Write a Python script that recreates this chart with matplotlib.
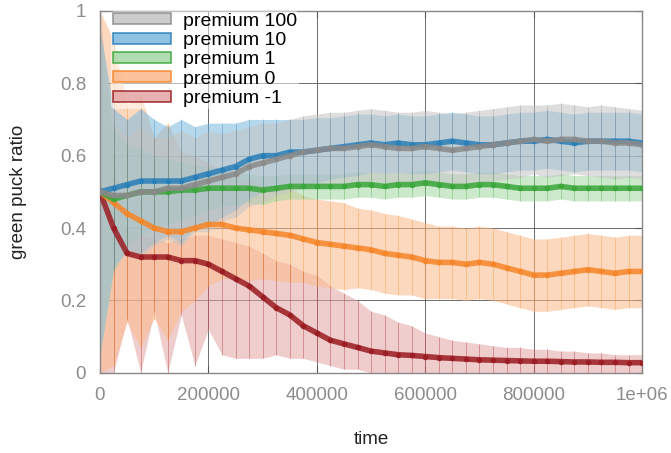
import matplotlib
matplotlib.use('Agg')
import matplotlib.pyplot as plt
from matplotlib.patches import Patch
import numpy as np

plt.rcParams['font.family'] = ['Liberation Sans', 'DejaVu Sans']

# time samples (every 25000 steps)
time = [i * 25000 for i in range(41)]

labels = ['premium 100', 'premium 10', 'premium 1', 'premium 0', 'premium -1']

# mean green puck ratio
p100_mean = [0.50, 0.49, 0.49, 0.50, 0.50, 0.51, 0.51, 0.52, 0.53, 0.54,
             0.55, 0.57, 0.58, 0.59, 0.60, 0.61, 0.615, 0.62, 0.62, 0.625,
             0.63, 0.625, 0.62, 0.62, 0.625, 0.62, 0.615, 0.62, 0.625, 0.63,
             0.635, 0.64, 0.645, 0.64, 0.645, 0.645, 0.64, 0.64, 0.635, 0.635, 0.63]
p10_mean = [0.50, 0.51, 0.52, 0.53, 0.53, 0.53, 0.53, 0.54, 0.55, 0.56,
            0.57, 0.59, 0.60, 0.60, 0.61, 0.61, 0.615, 0.62, 0.625, 0.63,
            0.635, 0.63, 0.635, 0.63, 0.63, 0.635, 0.64, 0.635, 0.63, 0.63,
            0.635, 0.64, 0.64, 0.645, 0.64, 0.635, 0.64, 0.64, 0.64, 0.64, 0.635]
p1_mean = [0.50, 0.48, 0.49, 0.50, 0.50, 0.50, 0.505, 0.505, 0.51, 0.51,
           0.51, 0.51, 0.505, 0.51, 0.515, 0.515, 0.515, 0.515, 0.515, 0.52,
           0.52, 0.515, 0.52, 0.52, 0.525, 0.52, 0.515, 0.515, 0.52, 0.52,
           0.515, 0.51, 0.51, 0.51, 0.515, 0.51, 0.51, 0.51, 0.51, 0.51, 0.51]
p0_mean = [0.50, 0.47, 0.44, 0.42, 0.40, 0.39, 0.39, 0.40, 0.41, 0.41,
           0.40, 0.395, 0.39, 0.385, 0.38, 0.37, 0.36, 0.355, 0.35, 0.345,
           0.34, 0.33, 0.325, 0.32, 0.31, 0.305, 0.305, 0.30, 0.305, 0.30,
           0.29, 0.28, 0.27, 0.27, 0.275, 0.28, 0.285, 0.28, 0.275, 0.28, 0.28]
pm1_mean = [0.50, 0.40, 0.33, 0.32, 0.32, 0.32, 0.31, 0.31, 0.30, 0.28,
            0.26, 0.24, 0.21, 0.18, 0.16, 0.13, 0.11, 0.09, 0.08, 0.07,
            0.06, 0.055, 0.05, 0.048, 0.045, 0.042, 0.04, 0.038, 0.036, 0.035,
            0.034, 0.033, 0.032, 0.032, 0.031, 0.030, 0.030, 0.029, 0.029, 0.028, 0.028]

# spread (std) around each mean
p100_std = [0.45, 0.20, 0.16, 0.18, 0.15, 0.14, 0.16, 0.13, 0.14, 0.12,
            0.12, 0.11, 0.11, 0.10, 0.10, 0.10, 0.10, 0.10, 0.10, 0.10,
            0.10, 0.10, 0.10, 0.10, 0.10, 0.10, 0.10, 0.10, 0.10, 0.10,
            0.10, 0.10, 0.095, 0.10, 0.10, 0.095, 0.095, 0.10, 0.10, 0.095, 0.095]
p10_std = [0.45, 0.22, 0.18, 0.20, 0.17, 0.15, 0.17, 0.14, 0.14, 0.13,
           0.12, 0.11, 0.10, 0.10, 0.09, 0.09, 0.09, 0.085, 0.085, 0.085,
           0.08, 0.08, 0.08, 0.08, 0.08, 0.08, 0.08, 0.08, 0.08, 0.08,
           0.08, 0.08, 0.08, 0.08, 0.08, 0.08, 0.08, 0.08, 0.08, 0.08, 0.08]
p1_std = [0.45, 0.20, 0.14, 0.12, 0.10, 0.09, 0.08, 0.07, 0.06, 0.05,
          0.045, 0.04, 0.04, 0.035, 0.035, 0.035, 0.035, 0.035, 0.035, 0.035,
          0.035, 0.035, 0.035, 0.035, 0.035, 0.035, 0.035, 0.035, 0.035, 0.035,
          0.035, 0.035, 0.035, 0.035, 0.035, 0.035, 0.035, 0.035, 0.035, 0.035, 0.035]
p0_std = [0.50, 0.45, 0.30, 0.35, 0.25, 0.30, 0.22, 0.20, 0.17, 0.15,
          0.14, 0.14, 0.13, 0.13, 0.13, 0.12, 0.12, 0.12, 0.12, 0.11,
          0.11, 0.11, 0.11, 0.105, 0.105, 0.10, 0.10, 0.10, 0.10, 0.10,
          0.10, 0.10, 0.10, 0.10, 0.10, 0.10, 0.10, 0.10, 0.10, 0.10, 0.10]

# premium -1 band is lopsided (spiky lower edge), so keep its bounds directly
pm1_low = [0.00, 0.00, 0.15, 0.00, 0.17, 0.00, 0.16, 0.02, 0.12, 0.05,
           0.04, 0.04, 0.04, 0.05, 0.04, 0.04, 0.03, 0.02, 0.01, 0.01,
           0.00, 0.00, 0.00, 0.00, 0.00, 0.00, 0.00, 0.00, 0.00, 0.00,
           0.00, 0.00, 0.00, 0.00, 0.00, 0.00, 0.00, 0.00, 0.00, 0.00, 0.00]
pm1_high = [1.00, 0.60, 0.40, 0.38, 0.37, 0.36, 0.37, 0.38, 0.38, 0.37,
            0.36, 0.35, 0.33, 0.31, 0.30, 0.28, 0.27, 0.24, 0.22, 0.20,
            0.17, 0.16, 0.14, 0.13, 0.11, 0.10, 0.09, 0.085, 0.08, 0.075,
            0.07, 0.07, 0.065, 0.065, 0.06, 0.06, 0.055, 0.055, 0.05, 0.05, 0.05]

line_colors = ['#8a8a8a', '#2a7fb8', '#3aa63a', '#f5862a', '#9a1c22']
band_colors = ['#c4c4c4', '#7ab8de', '#a2d8a2', '#fbb98a', '#e4a4a4']

means = [p100_mean, p10_mean, p1_mean, p0_mean, pm1_mean]
bounds = []
for m, s in zip([p100_mean, p10_mean, p1_mean, p0_mean], [p100_std, p10_std, p1_std, p0_std]):
    m, s = np.array(m), np.array(s)
    bounds.append((np.clip(m - s, 0, 1), np.clip(m + s, 0, 1)))
bounds.append((np.array(pm1_low), np.array(pm1_high)))

fig = plt.figure(figsize=(6.71, 4.53), dpi=100)
ax = fig.add_axes([0.149, 0.177, 0.808, 0.799])

# bands + vertical error bars, -1 first so 100 ends up on top
for i in reversed(range(5)):
    lo, hi = bounds[i]
    ax.fill_between(time, lo, hi, color=band_colors[i], alpha=0.55, lw=0, zorder=1)
    ax.vlines(time, lo, hi, color=line_colors[i], alpha=0.35, lw=0.7, zorder=1.5)

for i in reversed(range(5)):
    ax.plot(time, means[i], color=line_colors[i], lw=4, alpha=0.85,
            marker='o', ms=3, zorder=3)

ax.set_xlim(0, 1e6)
ax.set_ylim(0, 1)
ax.set_xticks([0, 200000, 400000, 600000, 800000, 1000000])
ax.set_xticklabels(['0', '200000', '400000', '600000', '800000', '1e+06'])
ax.set_yticks([0, 0.2, 0.4, 0.6, 0.8, 1])
ax.set_yticklabels(['0', '0.2', '0.4', '0.6', '0.8', '1'])
ax.tick_params(direction='in', top=True, right=True, length=5, width=0.8,
               color='#555555', labelcolor='#8c8c8c', labelsize=13.5, pad=10)
ax.grid(True, color='#555555', lw=0.6, zorder=0)
ax.set_axisbelow(True)
for sp in ax.spines.values():
    sp.set_color('#888888')
    sp.set_linewidth(1.0)

ax.set_xlabel('time', fontsize=13.5, color='#222222', labelpad=20)
ax.set_ylabel('green puck ratio', fontsize=13.5, color='#222222', labelpad=24)

handles = [Patch(facecolor=band_colors[i], edgecolor=line_colors[i], alpha=0.85, lw=1.2)
           for i in range(5)]
leg = ax.legend(handles, labels, loc='upper left', frameon=True, fontsize=14,
                handlelength=3.0, handleheight=0.5, labelspacing=0.12,
                borderaxespad=0.0, handletextpad=0.6, borderpad=0.1,
                bbox_to_anchor=(0.02, 1.0))
leg.get_frame().set_facecolor('white')
leg.get_frame().set_edgecolor('none')
leg.get_frame().set_alpha(0.5)

fig.savefig('out.png', dpi=100)
